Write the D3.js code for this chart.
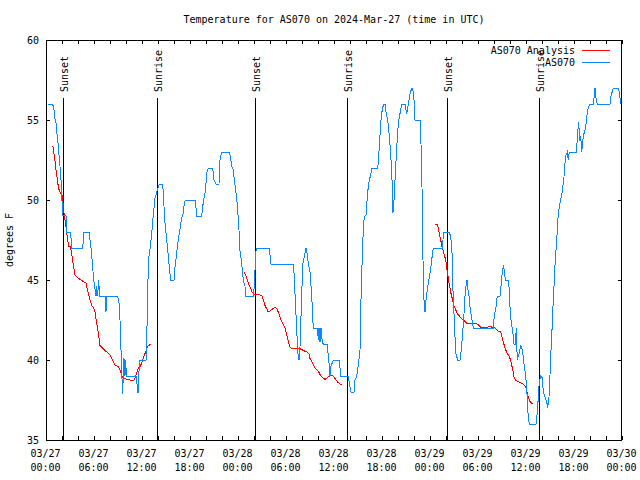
<!DOCTYPE html>
<html><head><meta charset="utf-8">
<script src="https://cdn.jsdelivr.net/npm/d3@7"></script>
<style>
html,body{margin:0;padding:0;background:#fff;}
text{font-family:"DejaVu Sans Mono","Liberation Mono",monospace;font-size:10px;fill:#000;}
</style></head>
<body>
<svg id="c" width="640" height="480"></svg>
<script>
// ---- data (hours after 2024-03-27 00:00 UTC, degrees F) ----
const titleText = "Temperature for AS070 on 2024-Mar-27 (time in UTC)";
const yLabel = "degrees F";
const seriesNames = ["AS070 Analysis", "AS070"];
const yTicks = [35, 40, 45, 50, 55, 60];

const obsHour = [0.29,0.84,1.0,1.125,1.25,1.33,1.46,1.54,1.67,1.75,1.875,1.96,2.08,2.5,2.58,3.08,3.21,4.58,4.75,5.375,5.5,5.625,5.83,5.92,6.08,6.25,6.33,6.46,6.58,6.71,7.375,7.41,7.5,7.58,8.96,9.125,9.25,9.33,9.46,9.54,9.625,9.75,9.875,9.96,10.04,11.33,11.42,11.54,11.67,12.5,12.58,12.71,12.79,13.0,13.21,13.41,13.625,13.91,14.16,14.59,14.75,14.875,15.09,15.25,15.41,15.59,16.0,16.125,16.34,16.54,16.75,16.96,17.16,17.25,17.41,18.625,18.75,18.84,19.46,19.59,19.75,19.875,20.0,20.09,20.29,20.84,21.0,21.25,21.625,21.75,21.96,22.91,23.09,23.21,23.41,23.54,23.71,23.84,23.96,24.125,24.25,24.46,24.54,24.66,24.875,24.96,25.91,26.04,26.16,26.21,26.34,27.91,28.125,30.91,31.04,31.16,31.34,31.46,31.54,31.625,31.75,31.875,31.96,32.09,32.375,32.5,32.66,32.79,33.0,33.21,33.34,33.41,33.91,34.04,34.125,34.25,34.375,34.54,34.66,35.16,35.29,35.41,35.5,35.625,35.91,36.66,36.84,37.79,38.0,38.125,38.5,38.625,38.84,39.04,39.25,39.34,39.46,39.59,39.66,39.79,40.0,40.09,40.21,40.41,40.59,40.71,41.46,41.54,41.66,41.84,41.96,42.09,42.25,42.375,42.5,42.71,42.91,43.09,43.25,43.375,43.5,43.625,43.84,44.04,44.25,44.46,44.875,45.09,45.29,45.5,45.71,45.84,46.0,46.125,46.75,46.875,47.0,47.125,47.25,47.375,47.5,47.66,47.79,47.91,48.09,48.21,48.41,49.59,49.66,50.41,50.59,50.75,50.91,51.04,51.125,51.25,51.46,51.75,51.875,52.09,52.25,52.375,52.5,52.625,52.71,52.875,53.0,53.21,53.41,55.91,56.04,56.25,56.41,56.75,56.875,57.0,57.16,57.29,57.41,57.79,57.91,58.0,58.125,58.34,58.5,58.66,58.79,58.91,59.125,59.25,59.375,59.5,59.66,59.79,59.96,60.09,60.21,60.41,61.25,61.41,61.54,61.66,61.84,62.04,62.16,62.375,62.59,62.71,62.875,63.0,63.125,63.29,63.41,63.54,63.66,63.84,64.04,64.25,64.46,64.59,64.75,64.875,65.0,65.16,65.29,65.41,66.34,66.41,66.59,66.71,66.84,66.96,67.16,67.46,67.59,67.79,68.0,68.41,68.54,68.625,68.75,68.91,70.5,70.625,70.91,71.54,71.66,71.84];
const obsTemp = [56,56,55.6,55.05,54.8,54.3,53.85,53.3,52.6,52.1,51.25,50.4,49.06,49,48,48,47,47,48,48,47.5,47,45.9,45.2,44.6,44.0,44.6,44.0,45.0,44.0,44,43.6,43.0,44.0,44.0,43.6,42.5,41.1,39.8,37.9,38.5,40.1,39.0,40.0,39.0,39.0,38.0,38.0,40.0,40.0,41.25,43.75,46.25,46.9,47.9,49.06,50.1,50.6,51.0,51.0,49.6,48.56,47.5,46.7,45.8,45.0,45.0,45.8,46.7,47.5,48.2,48.9,49.2,49.6,50.0,50.0,49.5,49.0,49.0,49.6,50.1,50.4,51.06,51.7,52.0,52.0,51.25,51.0,51.0,52.5,53.0,53.0,52.6,52.1,51.9,51.25,50.6,50.1,49.4,48.1,46.8,46.1,45.6,45.0,44.6,44.0,44.0,44.6,46.0,46.7,47.0,47.0,46.0,46.0,45.2,43.75,41.9,40.6,40.2,40.0,40.8,42.7,44.0,46.0,46.7,47.0,46.6,46.0,45.5,44.06,42.7,42.0,42.0,41.25,42.0,41.1,42.0,41.1,41.0,41.0,40.2,39.7,39.0,39.6,40.0,40.0,39.0,39.0,38.3,38.0,38.0,38.75,39.0,39.7,40.6,43.1,45.4,47.0,48.3,48.96,49.06,49.7,50.5,51.25,51.56,52.0,52.0,52.4,53.3,54.8,55.4,55.8,56.0,56.0,55.5,55.0,54.0,52.9,51.25,49.2,50.0,51.25,53.3,54.8,55.4,56.0,56.0,55.4,56.0,56.6,57.0,57.0,56.25,55.0,55.0,53.5,50.8,46.25,43.75,43.0,43.75,44.4,44.8,45.2,45.7,46.25,47.0,47.0,48.0,48.0,47.7,46.7,43.75,42.5,41.46,40.4,40.0,40.0,40.5,41.7,42.9,44.0,44.6,45.0,44.5,44.0,43.3,42.6,42.0,42.0,42.8,43.3,44.0,44.0,44.6,45.3,45.9,45.6,45.0,45.0,44.4,43.3,42.5,41.8,41.0,41.0,42.0,40.0,40.4,40.7,40.9,40.7,40.2,39.6,39.0,38.3,36.9,36.0,36.0,36.7,37.7,38.6,39.0,38.9,38.0,37.7,37.4,37.0,37.7,39.06,40.6,42.3,43.75,45.0,46.25,47.5,49.2,49.8,50.3,50.8,51.46,52.3,52.8,53.0,52.5,53.0,53.0,54.0,54.9,53.7,54.0,53.0,54.0,54.5,55.2,55.8,56.0,56.0,56.5,57.0,56.4,56.0,56.0,56.5,57.0,57.0,56.7,56.0];

// analysis: null separates the three daily runs
const anaHour = [0.79,0.91,1.04,1.16,1.25,1.375,1.46,1.54,1.66,1.84,2.0,2.09,2.16,2.25,2.375,2.5,2.66,2.84,3.0,3.125,3.25,3.41,3.625,3.84,4.25,4.66,5.0,5.09,5.29,5.5,5.71,5.91,6.125,6.34,6.54,6.75,7.16,7.59,8.0,8.21,8.41,8.625,9.04,9.25,9.46,9.66,10.09,10.5,10.91,11.125,11.34,11.54,11.75,11.96,12.16,12.375,12.59,12.79,13.09,
 null,
 24.75,24.96,25.16,25.375,25.59,25.79,26.125,26.75,26.96,27.16,27.375,27.59,27.79,28.0,28.34,28.625,28.84,29.04,29.25,29.46,29.66,29.875,30.09,30.29,30.5,30.71,31.75,32.16,32.59,32.875,33.0,33.21,33.41,33.625,33.84,34.04,34.25,34.46,34.66,34.875,35.09,35.29,35.5,35.71,35.91,36.125,36.34,36.54,36.75,36.96,
 null,
 48.625,48.91,49.04,49.16,49.34,49.5,49.66,49.84,50.0,50.16,50.29,50.41,50.54,50.66,50.79,50.91,51.09,51.25,51.41,51.59,51.75,51.96,52.16,52.375,52.59,52.79,53.41,53.84,54.04,54.25,54.46,54.66,55.09,55.29,55.5,55.91,56.125,56.34,56.54,56.75,56.875,57.0,57.16,57.34,57.5,57.66,57.84,58.0,58.16,58.34,58.5,58.66,58.84,59.04,59.25,59.46,59.66,59.875,60.0,60.16,60.34,60.5,60.71,60.91];
const anaTemp = [53.33,53.3,52.7,52.3,51.9,51.46,51.15,50.8,50.6,50.4,50.3,50.0,49.6,49.2,48.75,48.3,47.7,47.1,47.1,46.9,46.5,45.95,45.3,45.2,45.04,44.9,44.8,44.6,44.2,43.75,43.4,43.3,43.0,42.3,41.7,40.9,40.7,40.5,40.3,40.1,39.9,39.7,39.58,39.4,39.06,38.85,38.8,38.75,38.7,38.85,39.2,39.5,39.58,39.8,40.1,40.4,40.7,40.9,40.98,
 null,
 45.5,45.3,45.0,44.7,44.5,44.2,44.1,44.06,44.06,43.75,43.4,43.2,43.0,43.06,43.2,43.3,43.2,43.0,42.7,42.4,42.2,42.0,41.6,41.15,40.8,40.7,40.7,40.6,40.5,40.4,40.1,39.9,39.7,39.5,39.4,39.3,39.1,38.96,38.85,38.8,38.85,38.96,39.0,39.06,39.0,38.85,38.7,38.58,38.5,38.5,
 null,
 48.5,48.5,48.2,47.9,47.5,47.1,46.8,46.5,46.1,45.5,45.1,44.7,44.4,44.06,43.85,43.5,43.3,43.1,42.9,42.8,42.7,42.6,42.5,42.4,42.3,42.29,42.29,42.25,42.2,42.08,42.02,42.0,42.04,42.08,42.1,42.02,42.0,41.9,41.8,41.77,41.7,41.46,41.15,40.8,40.6,40.4,40.3,40.1,39.8,39.4,38.96,38.75,38.7,38.65,38.58,38.54,38.48,38.38,38.23,37.9,37.6,37.4,37.29,37.29];

const sunHour = [2.1, 13.84, 26.125, 37.66, 50.16, 61.66];
const sunLabel = ["Sunset", "Sunrise", "Sunset", "Sunrise", "Sunset", "Sunrise"];

// ---- chart ----
const base = Date.UTC(2024, 2, 27);
const toDate = h => new Date(base + h * 3600e3);
const start = toDate(0), end = toDate(72);

const svg = d3.select("#c");
const L = 46, R = 622, T = 40, B = 440;
const x = d3.scaleUtc().domain([start, end]).range([L, R]);
const y = d3.scaleLinear().domain([35, 60]).range([B, T]);

// title
svg.append("text").attr("x", (L + R) / 2).attr("y", 23).attr("text-anchor", "middle").text(titleText);
// y label
svg.append("text").attr("transform", "translate(13,240) rotate(-90)").attr("text-anchor", "middle").text(yLabel);

// x axis (bottom) with inward ticks every 2h, labels every 6h
const tickVals = d3.utcHour.every(2).range(start, toDate(72.01));
const fmtD = d3.utcFormat("%m/%d"), fmtT = d3.utcFormat("%H:%M");
const xb = svg.append("g").attr("transform", `translate(0,${B})`)
  .call(d3.axisBottom(x).tickValues(tickVals).tickSizeInner(-4).tickSizeOuter(0).tickPadding(10)
    .tickFormat(d => d.getUTCHours() % 6 === 0 ? "x" : ""));
xb.select(".domain").remove();
xb.selectAll("text").each(function(d) {
  const t = d3.select(this);
  if (d.getUTCHours() % 6 !== 0) { t.remove(); return; }
  t.text(null).attr("font-size", null).attr("font-family", null).attr("dy", null).attr("y", 0);
  t.append("tspan").attr("x", -1).attr("y", 17).text(fmtD(d));
  t.append("tspan").attr("x", -1).attr("y", 31).text(fmtT(d));
});
// top mirror ticks
const xt = svg.append("g").attr("transform", `translate(0,${T})`)
  .call(d3.axisTop(x).tickValues(tickVals).tickSizeInner(-4).tickSizeOuter(0).tickFormat(""));
xt.select(".domain").remove();

// y axis left with labels, right mirror
const yl = svg.append("g").attr("transform", `translate(${L},0)`)
  .call(d3.axisLeft(y).tickValues(yTicks).tickSizeInner(-4).tickSizeOuter(0).tickPadding(7).tickFormat(d3.format("d")));
yl.select(".domain").remove();
yl.selectAll("text").attr("font-size", null).attr("font-family", null);
const yr = svg.append("g").attr("transform", `translate(${R},0)`)
  .call(d3.axisRight(y).tickValues(yTicks).tickSizeInner(-4).tickSizeOuter(0).tickFormat(""));
yr.select(".domain").remove();
svg.selectAll(".tick line").attr("stroke", "#000").attr("shape-rendering", "crispEdges");

// border
svg.append("rect").attr("x", L + 0.5).attr("y", T + 0.5).attr("width", R - L - 1).attr("height", B - T)
  .attr("fill", "none").attr("stroke", "#000").attr("shape-rendering", "crispEdges");

// sun lines
sunHour.forEach((h, i) => {
  const sx = Math.round(x(toDate(h))) + 0.5;
  svg.append("line").attr("x1", sx).attr("x2", sx).attr("y1", 98).attr("y2", B)
    .attr("stroke", "#000").attr("stroke-width", 1).attr("shape-rendering", "crispEdges");
  svg.append("text").attr("transform", `translate(${sx + 4},92) rotate(-90)`).text(sunLabel[i]);
});

// lines
const line = d3.line().defined((d) => d[0] !== null).x(d => x(toDate(d[0]))).y(d => y(d[1]));
const anaData = anaHour.map((h, i) => [h, anaTemp[i]]);
const obsData = obsHour.map((h, i) => [h, obsTemp[i]]);
svg.append("path").datum(anaData).attr("d", line).attr("fill", "none").attr("stroke", "#ff0000")
  .attr("stroke-width", 1).attr("shape-rendering", "crispEdges");
svg.append("path").datum(obsData).attr("d", line).attr("fill", "none").attr("stroke", "#0a88ff")
  .attr("stroke-width", 1).attr("shape-rendering", "crispEdges");

// legend
const legColors = ["#ff0000", "#0a88ff"];
seriesNames.forEach((n, i) => {
  const ly = 50 + i * 12.5;
  svg.append("text").attr("x", 575).attr("y", ly + 3.5).attr("text-anchor", "end").text(n);
  svg.append("line").attr("x1", 582).attr("x2", 610).attr("y1", ly).attr("y2", ly)
    .attr("stroke", legColors[i]).attr("stroke-width", 1).attr("shape-rendering", "crispEdges");
});
</script>
</body></html>
